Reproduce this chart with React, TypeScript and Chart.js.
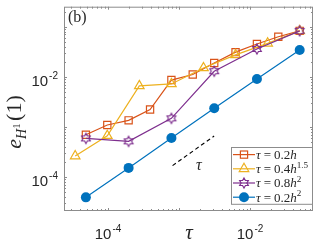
import React, { useEffect, useRef } from "react";
import { Chart, registerables } from "chart.js";

Chart.register(...registerables);

// ---- data ----
const xOrange = [4.88e-5, 9.77e-5, 1.95e-4, 3.91e-4, 7.81e-4, 1.56e-3, 3.13e-3, 6.25e-3, 1.25e-2, 2.5e-2, 5e-2];
const yOrange = [6.97e-4, 1.09e-3, 1.35e-3, 2.22e-3, 8.6e-3, 1.11e-2, 1.88e-2, 3.1e-2, 4.5e-2, 6.28e-2, 8.24e-2];

const xYellow = [3.45e-5, 9.77e-5, 2.76e-4, 7.81e-4, 2.21e-3, 6.25e-3, 1.77e-2, 5e-2];
const yYellow = [2.62e-4, 6.67e-4, 6.58e-3, 7.2e-3, 1.5e-2, 2.74e-2, 4.65e-2, 8.24e-2];

const xPurple = [4.88e-5, 1.95e-4, 7.81e-4, 3.13e-3, 1.25e-2, 5e-2];
const yPurple = [5.9e-4, 5.15e-4, 1.48e-3, 1.29e-2, 3.59e-2, 8.24e-2];

const xBlue = [4.88e-5, 1.95e-4, 7.81e-4, 3.13e-3, 1.25e-2, 5e-2];
const yBlue = [3.93e-5, 1.52e-4, 6.0e-4, 2.36e-3, 9.0e-3, 3.43e-2];

const xRef = [8.11e-4, 3.12e-3];
const yRef = [1.69e-4, 6.57e-4];
const refLabel = "τ";
const refLabelPos = [1.9e-3, 1.7e-4];

const xLimits = [2.4e-5, 0.077];
const yLimits = [2.1e-5, 0.25];

const xTickValues = [1e-4, 1e-2];
const xTickExps = ["-4", "-2"];
const yTickValues = [1e-4, 1e-2];
const yTickExps = ["-4", "-2"];
const tickBase = "10";

const panelLabel = "(b)";
const xTitle = "τ";

type Seg = { t: string; it?: boolean; sup?: boolean; pad?: number };
const legendLabels: Seg[][] = [
  [{ t: "τ", it: true }, { t: "=", pad: 3 }, { t: "0.2" }, { t: "h", it: true }],
  [{ t: "τ", it: true }, { t: "=", pad: 3 }, { t: "0.4" }, { t: "h", it: true }, { t: "1.5", sup: true }],
  [{ t: "τ", it: true }, { t: "=", pad: 3 }, { t: "0.8" }, { t: "h", it: true }, { t: "2", sup: true }],
  [{ t: "τ", it: true }, { t: "=", pad: 3 }, { t: "0.2" }, { t: "h", it: true }, { t: "2", sup: true }],
];

const ORANGE = "#D95319";
const YELLOW = "#EDB120";
const PURPLE = "#7E2F8E";
const BLUE = "#0072BD";
const AXIS = "#8c8c8c";
const TEXT = "#262626";
const SERIF = '"Liberation Serif", "DejaVu Serif", serif';
const SANS = '"Liberation Sans", Arial, sans-serif';

function hexPath(ctx: CanvasRenderingContext2D, cx: number, cy: number, r: number) {
  ctx.beginPath();
  for (let i = 0; i < 12; i++) {
    const a = -Math.PI / 2 + (i * Math.PI) / 6;
    const rr = i % 2 === 0 ? r : r / Math.sqrt(3);
    const px = cx + rr * Math.cos(a);
    const py = cy + rr * Math.sin(a);
    if (i === 0) ctx.moveTo(px, py);
    else ctx.lineTo(px, py);
  }
  ctx.closePath();
}

function makeHex(color: string, r: number, lw: number) {
  const c = document.createElement("canvas");
  const s = 2 * Math.ceil(r + lw + 1);
  c.width = s;
  c.height = s;
  const ctx = c.getContext("2d")!;
  ctx.strokeStyle = color;
  ctx.lineWidth = lw;
  hexPath(ctx, s / 2, s / 2, r);
  ctx.stroke();
  return c;
}

function drawMarker(ctx: CanvasRenderingContext2D, kind: string, color: string, x: number, y: number) {
  ctx.save();
  ctx.strokeStyle = color;
  ctx.fillStyle = color;
  ctx.lineWidth = 1.2;
  if (kind === "rect") {
    const s = 3.6;
    ctx.strokeRect(x - s, y - s, 2 * s, 2 * s);
  } else if (kind === "triangle") {
    const r = 5.5;
    const h = (r * 3) / 2;
    const e = r * Math.sqrt(3);
    ctx.beginPath();
    ctx.moveTo(x, y - (2 * h) / 3);
    ctx.lineTo(x + e / 2, y + h / 3);
    ctx.lineTo(x - e / 2, y + h / 3);
    ctx.closePath();
    ctx.stroke();
  } else if (kind === "hex") {
    hexPath(ctx, x, y, 5);
    ctx.stroke();
  } else {
    ctx.beginPath();
    ctx.arc(x, y, 5, 0, Math.PI * 2);
    ctx.fill();
  }
  ctx.restore();
}

function drawSegs(ctx: CanvasRenderingContext2D, segs: Seg[], x: number, y: number, size: number) {
  let cx = x;
  for (const s of segs) {
    const fs = s.sup ? size * 0.7 : size;
    ctx.font = `${s.it ? "italic " : ""}${fs}px ${SERIF}`;
    const pad = s.pad || 0;
    cx += pad;
    ctx.fillText(s.t, cx, s.sup ? y - size * 0.42 : y);
    cx += ctx.measureText(s.t).width + pad;
  }
}

const legendKinds = [
  { kind: "rect", color: ORANGE },
  { kind: "triangle", color: YELLOW },
  { kind: "hex", color: PURPLE },
  { kind: "circle", color: BLUE },
];

const decorPlugin = {
  id: "decor",
  afterDraw(chart: any) {
    const ctx: CanvasRenderingContext2D = chart.ctx;
    const { left, right, top, bottom } = chart.chartArea;
    const xs = chart.scales.x;
    const ys = chart.scales.y;
    ctx.save();

    // box
    ctx.strokeStyle = AXIS;
    ctx.lineWidth = 1;
    ctx.strokeRect(left + 0.5, top + 0.5, right - left - 1, bottom - top - 1);

    // ticks (inside, all four sides)
    ctx.beginPath();
    for (let e = -6; e <= 1; e++) {
      for (let k = 1; k <= 9; k++) {
        const v = k * Math.pow(10, e);
        const len = k === 1 ? 3 : 2;
        if (v >= xLimits[0] && v <= xLimits[1]) {
          const px = Math.round(xs.getPixelForValue(v)) + 0.5;
          ctx.moveTo(px, bottom);
          ctx.lineTo(px, bottom - len);
          ctx.moveTo(px, top);
          ctx.lineTo(px, top + len);
        }
        if (v >= yLimits[0] && v <= yLimits[1]) {
          const py = Math.round(ys.getPixelForValue(v)) + 0.5;
          ctx.moveTo(left, py);
          ctx.lineTo(left + len, py);
          ctx.moveTo(right, py);
          ctx.lineTo(right - len, py);
        }
      }
    }
    ctx.stroke();

    // tick labels
    ctx.fillStyle = TEXT;
    ctx.textBaseline = "alphabetic";
    ctx.textAlign = "left";
    xTickValues.forEach((v, i) => {
      ctx.font = `15px ${SANS}`;
      const wb = ctx.measureText(tickBase).width;
      ctx.font = `10px ${SANS}`;
      const we = ctx.measureText(xTickExps[i]).width;
      const px = xs.getPixelForValue(v);
      const x0 = px - (wb + we + 1) / 2;
      ctx.font = `15px ${SANS}`;
      ctx.fillText(tickBase, x0, 239);
      ctx.font = `10px ${SANS}`;
      ctx.fillText(xTickExps[i], x0 + wb + 1, 232);
    });
    yTickValues.forEach((v, i) => {
      ctx.font = `15px ${SANS}`;
      const wb = ctx.measureText(tickBase).width;
      ctx.font = `10px ${SANS}`;
      const we = ctx.measureText(yTickExps[i]).width;
      const py = ys.getPixelForValue(v);
      const x0 = 58 - we - 1 - wb;
      ctx.font = `15px ${SANS}`;
      ctx.fillText(tickBase, x0, py + 9);
      ctx.font = `10px ${SANS}`;
      ctx.fillText(yTickExps[i], x0 + wb + 1, py + 2);
    });

    // x title
    ctx.font = `italic 21px ${SERIF}`;
    ctx.textAlign = "center";
    ctx.textBaseline = "alphabetic";
    ctx.fillText(xTitle, 189, 239);

    // y title e_{H^1}(1), rotated
    ctx.save();
    ctx.translate(21, 122);
    ctx.rotate(-Math.PI / 2);
    ctx.textAlign = "left";
    const big = 22;
    ctx.font = `italic ${big}px ${SERIF}`;
    const we = ctx.measureText("e").width;
    ctx.font = `italic 14px ${SERIF}`;
    const wH = ctx.measureText("H").width;
    ctx.font = `10px ${SERIF}`;
    const w1 = ctx.measureText("1").width;
    ctx.font = `${big}px ${SERIF}`;
    const wp = ctx.measureText("(1)").width;
    const W = we + wH + w1 + 3 + wp;
    let cx = -W / 2;
    ctx.font = `italic ${big}px ${SERIF}`;
    ctx.fillText("e", cx, 0);
    cx += we;
    ctx.font = `italic 14px ${SERIF}`;
    ctx.fillText("H", cx, 5);
    cx += wH;
    ctx.font = `10px ${SERIF}`;
    ctx.fillText("1", cx + 0.5, -1);
    cx += w1 + 3;
    ctx.font = `${big}px ${SERIF}`;
    ctx.fillText("(1)", cx, 0);
    ctx.restore();

    // panel label
    ctx.font = `16px ${SERIF}`;
    ctx.textAlign = "left";
    ctx.textBaseline = "alphabetic";
    ctx.fillText(panelLabel, left + 4, top + 15);

    // reference slope label
    ctx.font = `italic 16px ${SERIF}`;
    ctx.textAlign = "center";
    ctx.textBaseline = "middle";
    ctx.fillText(refLabel, xs.getPixelForValue(refLabelPos[0]), ys.getPixelForValue(refLabelPos[1]));

    // legend
    const lx = 231.5, ly = 147.5, lw = 81, rowH = 14.2;
    const lh = rowH * legendLabels.length;
    ctx.fillStyle = "#ffffff";
    ctx.fillRect(lx, ly, lw, lh);
    ctx.strokeStyle = AXIS;
    ctx.lineWidth = 1;
    ctx.strokeRect(lx, ly, lw, lh);
    legendLabels.forEach((segs, i) => {
      const cy = ly + rowH * (i + 0.5);
      const k = legendKinds[i];
      ctx.strokeStyle = k.color;
      ctx.lineWidth = 1.2;
      ctx.beginPath();
      ctx.moveTo(233, cy);
      ctx.lineTo(255, cy);
      ctx.stroke();
      drawMarker(ctx, k.kind, k.color, 244, cy);
      ctx.fillStyle = TEXT;
      ctx.textAlign = "left";
      ctx.textBaseline = "alphabetic";
      drawSegs(ctx, segs, 256, cy + 4.3, 13);
    });

    ctx.restore();
  },
};

function pts(xs: number[], ys: number[]) {
  return xs.map((x, i) => ({ x, y: ys[i] }));
}

export default function App() {
  const ref = useRef<HTMLCanvasElement | null>(null);
  useEffect(() => {
    const canvas = ref.current!;
    const hexImg = makeHex(PURPLE, 5, 1.2);
    const chart = new Chart(canvas, {
      type: "scatter",
      data: {
        datasets: [
          {
            label: "ref",
            data: pts(xRef, yRef),
            showLine: true,
            borderColor: "#000000",
            borderWidth: 1.1,
            borderDash: [4, 3],
            pointRadius: 0,
            order: 5,
          },
          {
            label: "τ = 0.2h",
            data: pts(xOrange, yOrange),
            showLine: true,
            borderColor: ORANGE,
            borderWidth: 1.2,
            pointStyle: "rect",
            pointRadius: 5.1,
            pointBorderColor: ORANGE,
            pointBackgroundColor: "rgba(0,0,0,0)",
            pointBorderWidth: 1.2,
            order: 4,
          },
          {
            label: "τ = 0.4h^1.5",
            data: pts(xYellow, yYellow),
            showLine: true,
            borderColor: YELLOW,
            borderWidth: 1.2,
            pointStyle: "triangle",
            pointRadius: 5.5,
            pointBorderColor: YELLOW,
            pointBackgroundColor: "rgba(0,0,0,0)",
            pointBorderWidth: 1.2,
            order: 3,
          },
          {
            label: "τ = 0.8h^2",
            data: pts(xPurple, yPurple),
            showLine: true,
            borderColor: PURPLE,
            borderWidth: 1.2,
            pointStyle: hexImg as any,
            pointRadius: 5,
            order: 2,
          },
          {
            label: "τ = 0.2h^2",
            data: pts(xBlue, yBlue),
            showLine: true,
            borderColor: BLUE,
            borderWidth: 1.2,
            pointStyle: "circle",
            pointRadius: 5,
            pointBorderColor: BLUE,
            pointBackgroundColor: BLUE,
            pointBorderWidth: 0,
            order: 1,
          },
        ],
      },
      options: {
        animation: false,
        responsive: false,
        events: [],
        layout: { padding: { left: 64, top: 4, right: 10, bottom: 31 } },
        scales: {
          x: { type: "logarithmic", min: xLimits[0], max: xLimits[1], display: false },
          y: { type: "logarithmic", min: yLimits[0], max: yLimits[1], display: false },
        },
        plugins: { legend: { display: false }, tooltip: { enabled: false } },
        elements: { line: { tension: 0 } },
      },
      plugins: [decorPlugin],
    });
    return () => chart.destroy();
  }, []);
  return (
    <div style={{ position: "fixed", left: 0, top: 0, width: 323, height: 242, background: "#fff" }}>
      <canvas ref={ref} width={323} height={242} style={{ display: "block", width: 323, height: 242 }} />
    </div>
  );
}
